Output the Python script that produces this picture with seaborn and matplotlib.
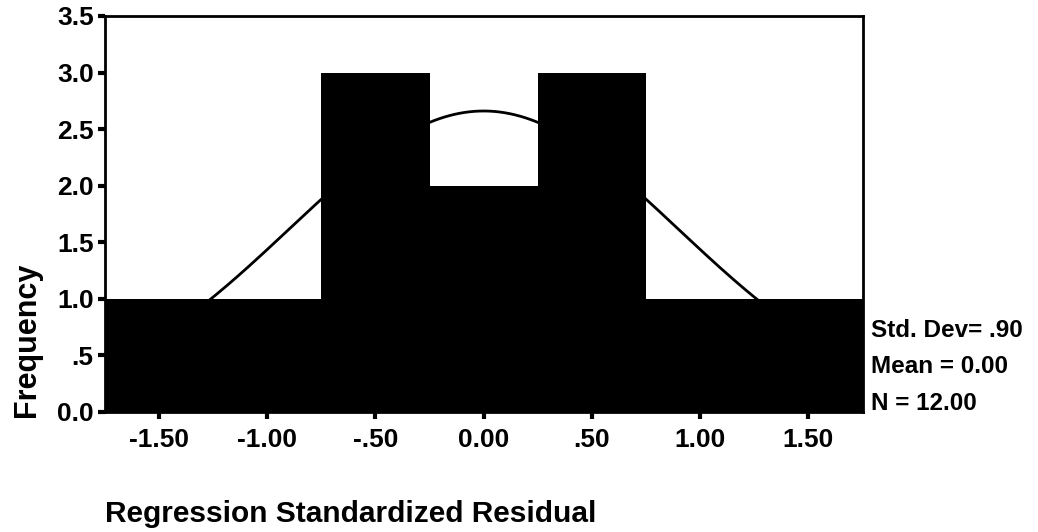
import numpy as np
import matplotlib
matplotlib.use("Agg")
import matplotlib.pyplot as plt
import seaborn as sns

# Data
bin_edges = [-1.75, -1.25, -0.75, -0.25, 0.25, 0.75, 1.25, 1.75]
bin_centers = [-1.5, -1.0, -0.5, 0.0, 0.5, 1.0, 1.5]
counts = [1, 1, 3, 2, 3, 1, 1]
x_ticks = [-1.5, -1.0, -0.5, 0.0, 0.5, 1.0, 1.5]
x_ticklabels = ["-1.50", "-1.00", "-.50", "0.00", ".50", "1.00", "1.50"]
y_ticks = [0.0, 0.5, 1.0, 1.5, 2.0, 2.5, 3.0, 3.5]
y_ticklabels = ["0.0", ".5", "1.0", "1.5", "2.0", "2.5", "3.0", "3.5"]
std_dev = 0.90
mean = 0.00
n_obs = 12.00
stats_lines = ["Std. Dev= .90", "Mean = 0.00", "N = 12.00"]

sns.set_theme(style="white")
plt.rcParams['font.family'] = ['Liberation Sans', 'DejaVu Sans']
plt.rcParams['text.color'] = 'black'
plt.rcParams['xtick.color'] = 'black'
plt.rcParams['ytick.color'] = 'black'
plt.rcParams['axes.labelcolor'] = 'black'

fig = plt.figure(figsize=(10.38, 5.32), dpi=100)
ax = fig.add_axes([0.101, 0.226, 0.730, 0.744])

sns.histplot(x=bin_centers, weights=counts, bins=bin_edges, color="black",
             edgecolor="black", linewidth=0, alpha=1.0, ax=ax)

# Normal curve from the reported statistics
bw = bin_edges[1] - bin_edges[0]
xs = np.linspace(bin_edges[0], bin_edges[-1], 300)
ys = n_obs * bw / (std_dev * np.sqrt(2 * np.pi)) * np.exp(-0.5 * ((xs - mean) / std_dev) ** 2)
sns.lineplot(x=xs, y=ys, color="black", linewidth=2, ax=ax)

ax.set_xlim(bin_edges[0], bin_edges[-1])
ax.set_ylim(0, 3.5)
ax.set_xticks(x_ticks)
ax.set_xticklabels(x_ticklabels)
ax.set_yticks(y_ticks)
ax.set_yticklabels(y_ticklabels)
ax.set_xlabel("")
ax.set_ylabel("")
for s in ax.spines.values():
    s.set_visible(True)
    s.set_color("black")
    s.set_linewidth(2)
ax.tick_params(axis="both", direction="out", length=5, width=3, color="black",
               labelcolor="black", labelsize=19, pad=3, bottom=True, left=True)
for lab in ax.get_xticklabels() + ax.get_yticklabels():
    lab.set_fontweight("bold")
ax.tick_params(axis="x", pad=7)

fig.text(0.026, 0.361, "Frequency", rotation=90, ha="center", va="center",
         fontsize=22, fontweight="bold")
fig.text(0.101, 1 - 522 / 532, "Regression Standardized Residual", ha="left",
         va="baseline", fontsize=21.5, fontweight="bold")
baselines = [337, 373, 410]
for t, b in zip(stats_lines, baselines):
    fig.text(0.839, 1 - b / 532, t, ha="left", va="baseline", fontsize=17.5,
             fontweight="bold")

fig.savefig("out.png", dpi=100)
